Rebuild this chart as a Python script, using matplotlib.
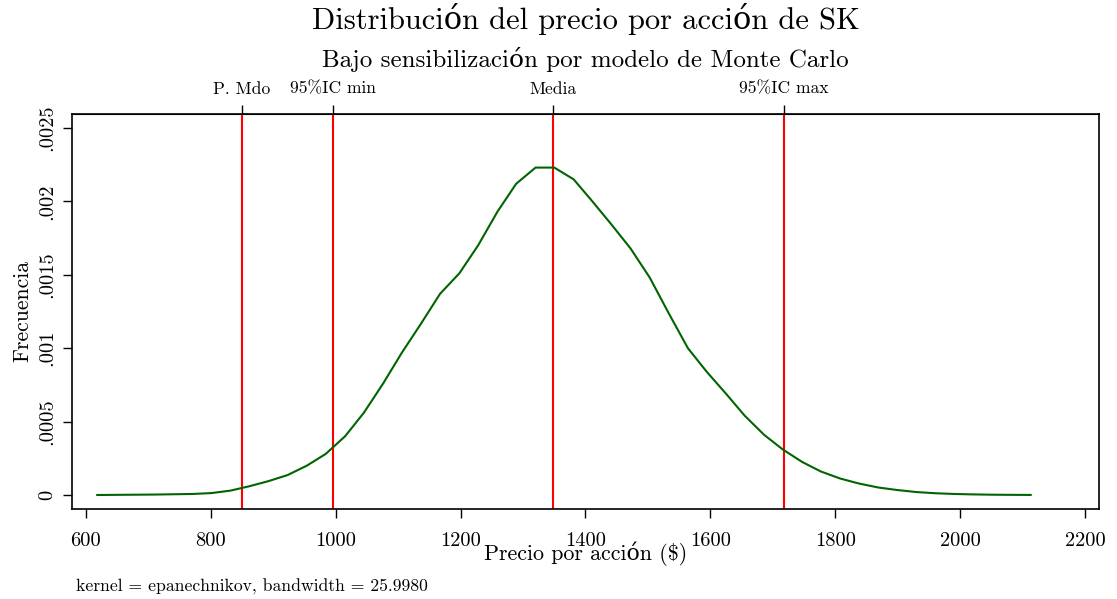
import matplotlib
matplotlib.use("Agg")
import matplotlib.pyplot as plt

plt.rcParams['font.family'] = ['cmr10', 'DejaVu Serif']
plt.rcParams['axes.formatter.use_mathtext'] = True

# densidad kernel
precio = [618, 648.5, 679, 709.5, 740, 770.5, 801, 831.6, 862, 892.7,
          923, 953.8, 984, 1015, 1045, 1076, 1106, 1137, 1167, 1198,
          1228, 1259, 1289, 1320, 1350, 1381, 1411, 1442, 1472, 1503,
          1533, 1564, 1594, 1625, 1655, 1686, 1716, 1747, 1777, 1808,
          1838, 1869, 1899, 1930, 1960, 1991, 2021, 2052, 2082, 2113]
densidad = [0.0, 0.000001, 0.000002, 0.000003, 0.000005, 0.000007, 0.000013, 0.00003, 0.00006, 0.000095,
            0.000136, 0.0002, 0.00028, 0.0004, 0.00056, 0.00076, 0.00097, 0.00117, 0.00137, 0.00151,
            0.0017, 0.00193, 0.00212, 0.00223, 0.00223, 0.00215, 0.0020, 0.00184, 0.00168, 0.00148,
            0.00124, 0.0010, 0.00084, 0.00069, 0.00054, 0.00041, 0.00031, 0.000225, 0.00016, 0.000112,
            0.000078, 0.000051, 0.000034, 0.00002, 0.000012, 0.000007, 0.000004, 0.000002, 0.000001, 0.0000005]

# líneas de referencia
ref_x = [850, 996, 1348, 1718]
ref_lab = ['P. Mdo', '95%IC min', 'Media', '95%IC max']

xticks = [600, 800, 1000, 1200, 1400, 1600, 1800, 2000, 2200]
yticks = [0, 0.0005, 0.001, 0.0015, 0.002, 0.0025]
ylabs = ['0', '.0005', '.001', '.0015', '.002', '.0025']

fig = plt.figure(figsize=(11.17, 5.99), dpi=100)
ax = fig.add_axes([72/1117, 90/599, 1027/1117, 395/599])

for xv in ref_x:
    ax.axvline(xv, color='#ff0000', lw=1.5, zorder=2)
ax.plot(precio, densidad, color='#006400', lw=1.5, zorder=3)

ax.set_xlim(577.6, 2222.4)
ax.set_ylim(-0.0000954, 0.002595)
ax.set_xticks(xticks)
ax.set_xticklabels([str(t) for t in xticks])
ax.set_yticks(yticks)
ax.set_yticklabels(ylabs, rotation=90, va='center')
ax.tick_params(direction='out', length=6.5, width=1.0, labelsize=14.7)
ax.tick_params(axis='x', pad=10)
ax.tick_params(axis='y', pad=5)
for s in ax.spines.values():
    s.set_linewidth(1.2)

top = ax.secondary_xaxis('top')
top.set_xticks(ref_x)
top.set_xticklabels(ref_lab)
top.tick_params(direction='out', length=6.5, width=1.0, labelsize=12.6, pad=6)

ax.set_xlabel('Precio por acción ($)', fontsize=15.8, labelpad=-6)
ax.set_ylabel('Frecuencia', fontsize=15.5, labelpad=4)

fig.text(0.5241, 0.968, 'Distribución del precio por acción de SK', ha='center', va='center', fontsize=22)
fig.text(0.5241, 0.9, 'Bajo sensibilización por modelo de Monte Carlo', ha='center', va='center', fontsize=18)
fig.text(76/1117, 1 - 587/599, 'kernel = epanechnikov, bandwidth = 25.9980', ha='left', va='center', fontsize=12.7)

fig.savefig('out.png', dpi=100)
